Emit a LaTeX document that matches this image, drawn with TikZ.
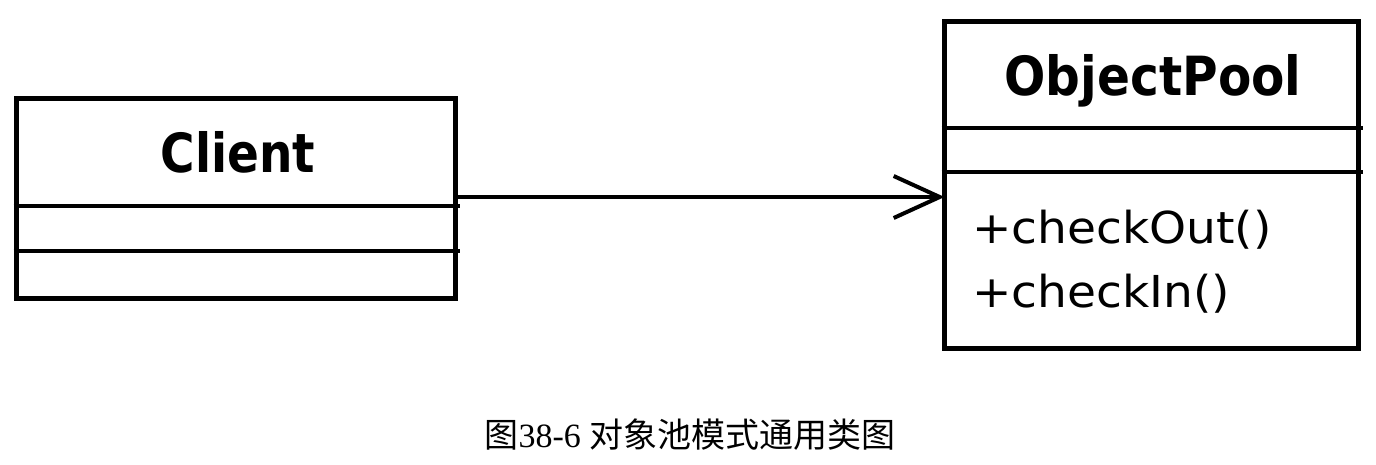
\documentclass[tikz,border=0pt]{standalone}
\usepackage{fontspec}
\usetikzlibrary{arrows.meta}
\newfontfamily\umlfont{DejaVu Sans}
\newfontfamily\cjk{Noto Sans CJK SC}
\newfontfamily\capserif{Liberation Serif}
\tikzset{
  classbox/.style={draw=black, line width=5pt, rectangle, inner sep=0pt},
  divider/.style={draw=black, line width=4pt},
  assoc/.style={draw=black, line width=4pt, shorten >=-3pt, -{Straight Barb[length=46pt,width=42pt,line width=4pt]}},
  classname/.style={font=\umlfont\bfseries\fontsize{54}{60}\selectfont, anchor=base, inner sep=0pt},
  member/.style={font=\umlfont\fontsize{44}{48}\selectfont, anchor=base west, inner sep=0pt},
  captionstyle/.style={anchor=base, inner sep=0pt}
}
\begin{document}
\begin{tikzpicture}[x=1pt,y=-1pt]
\useasboundingbox (0,0) rectangle (1376,464);
\fill[white] (0,0) rectangle (1376,464);
% Client
\node[classbox, minimum width=439pt, minimum height=200pt] (client) at (235.5,198) {};
\node[classname] (clientname) at (238,172) {\scalebox{0.87}[1]{Client}};
\draw[divider] (client.west |- 0,206) coordinate (cd1a) -- ++(446,0) coordinate (cd1b);
\draw[divider] (client.west |- 0,251) coordinate (cd2a) -- ++(446,0) coordinate (cd2b);
% ObjectPool
\node[classbox, minimum width=414pt, minimum height=327pt] (pool) at (1151,184.5) {};
\node[classname] (poolname) at (1153,95) {\scalebox{0.9}[1]{ObjectPool}};
\draw[divider] (pool.west |- 0,128) coordinate (pd1a) -- ++(421,0) coordinate (pd1b);
\draw[divider] (pool.west |- 0,172) coordinate (pd2a) -- ++(421,0) coordinate (pd2b);
\node[member] (m1) at (972,243) {\scalebox{1.07}[1]{+checkOut()}};
\node[member] (m2) at (972,307) {\scalebox{1.07}[1]{+checkIn()}};
% association
\draw[assoc] (client.east |- 0,197) coordinate (as) -- (as -| pool.west);
% caption
\node[captionstyle, font=\fontsize{34}{40}\selectfont] (cap) at (690,447) {{\cjk 图}{\capserif 38-6 }{\cjk 对象池模式通用类图}};
\end{tikzpicture}
\end{document}
